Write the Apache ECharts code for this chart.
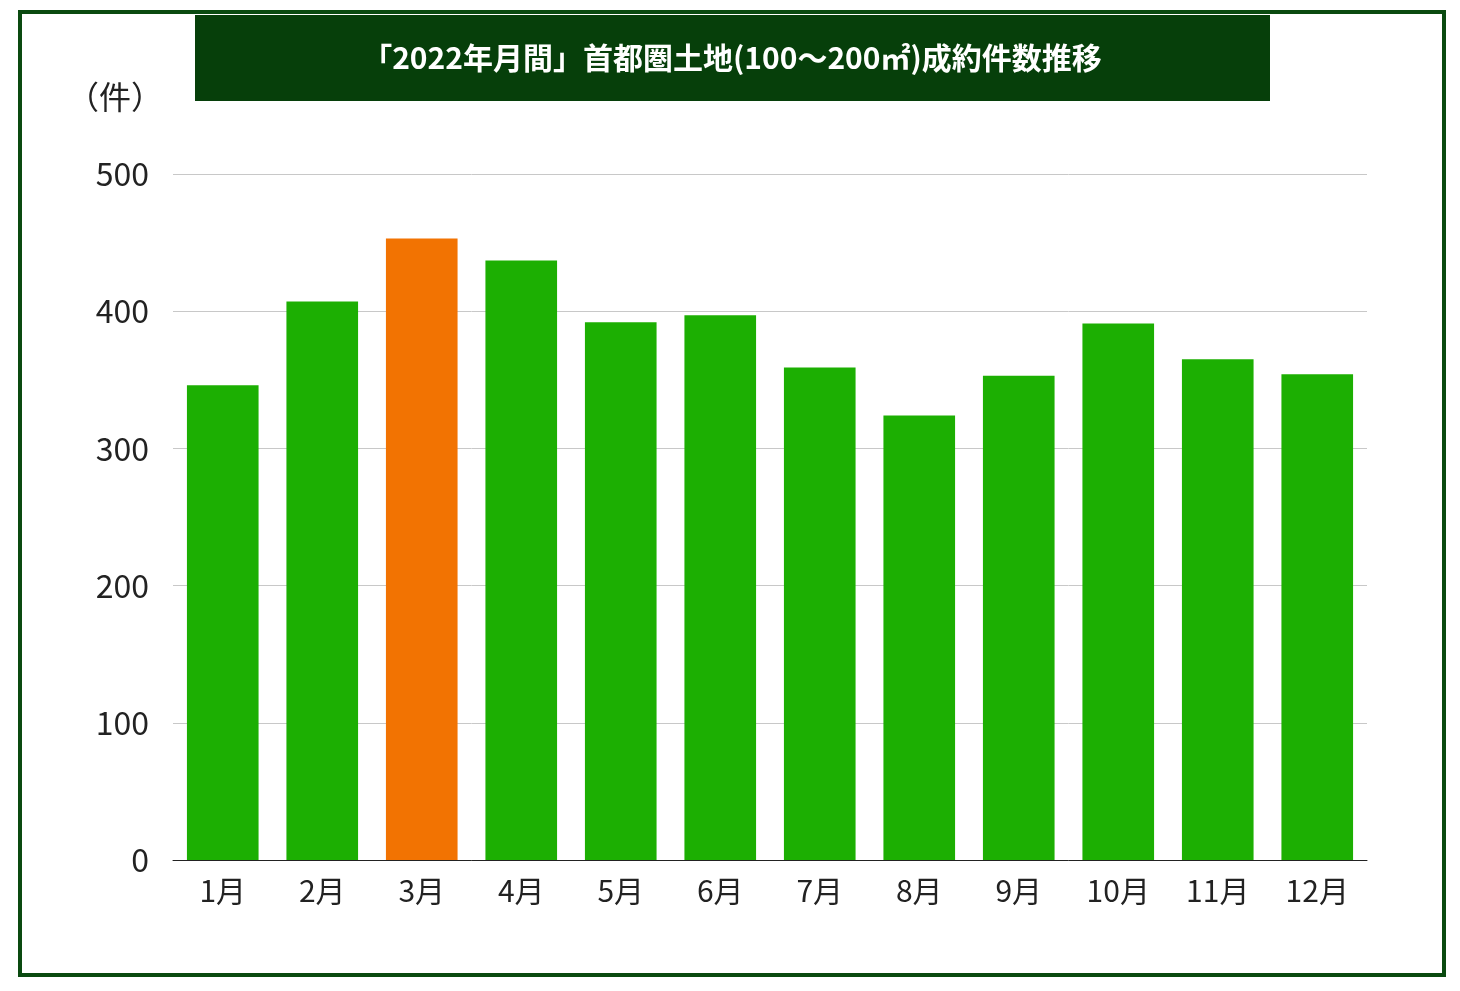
<!DOCTYPE html>
<html><head><meta charset="utf-8">
<script src="https://cdn.jsdelivr.net/npm/echarts@6/dist/echarts.min.js"></script>
<style>html,body{margin:0;padding:0;background:#fff}#c{width:1460px;height:991px}</style>
</head><body><div id="c"></div>
<script>
const categories = ['1月','2月','3月','4月','5月','6月','7月','8月','9月','10月','11月','12月'];
const values = [346, 407, 453, 437, 392, 397, 359, 324, 353, 391, 365, 354];
const highlightIndex = 2;
const titleText = '「2022年月間」首都圏土地(100〜200㎡)成約件数推移';
const font = '"Noto Sans CJK JP", "Noto Sans", sans-serif';
const chart = echarts.init(document.getElementById('c'));
chart.setOption({
  animation: false,
  graphic: [
    {type:'rect', shape:{x:20,y:12,width:1424,height:963}, style:{fill:'none', stroke:'#0a4a10', lineWidth:4}},
    {type:'rect', shape:{x:195,y:15,width:1075,height:86}, style:{fill:'#063f0a'}},
    {type:'text', x:732, y:58, style:{text:titleText, fill:'#fff', font:'bold 30px '+font, textAlign:'center', textVerticalAlign:'middle'}},
    {type:'text', x:115, y:97, style:{text:'（件）', fill:'#222', font:'32px '+font, textAlign:'center', textVerticalAlign:'middle'}}
  ],
  grid: {left:173, right:93, top:174, bottom:131},
  xAxis: {type:'category', data:categories,
    axisLine:{lineStyle:{color:'#222'}}, axisTick:{show:false},
    axisLabel:{color:'#222', fontSize:30, fontFamily:font, margin:16}},
  yAxis: {type:'value', min:0, max:500, interval:100,
    axisLabel:{color:'#222', fontSize:32, fontFamily:font, margin:24},
    splitLine:{lineStyle:{color:'#c8c8c8'}}},
  series: [{type:'bar', barWidth:'72%',
    data: values.map((v,i)=>({value:v, itemStyle:{color: i===highlightIndex?'#f27302':'#1caf02'}}))}]
});
</script></body></html>
